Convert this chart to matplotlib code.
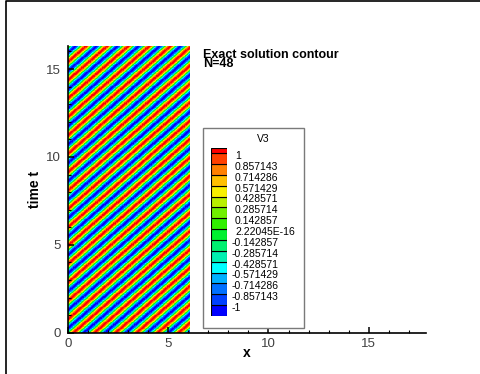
import numpy as np
import matplotlib
matplotlib.use("Agg")
import matplotlib.pyplot as plt
from matplotlib.colors import ListedColormap, BoundaryNorm
from matplotlib.patches import Rectangle
from matplotlib.lines import Line2D

plt.rcParams['font.family'] = ['Liberation Sans', 'DejaVu Sans']

# Exact travelling-wave solution V3 = A*sin(k*(x - c*t)) on the computational domain
wavenumber = 6.0
wave_speed = 1.0
amplitude = 1.05
x_max = 6.05
t_max = 16.33
n_points = 48

# Contour levels shown in the legend
levels = [-1, -0.857143, -0.714286, -0.571429, -0.428571, -0.285714, -0.142857,
          2.22045e-16, 0.142857, 0.285714, 0.428571, 0.571429, 0.714286,
          0.857143, 1]
level_labels = ['-1', '-0.857143', '-0.714286', '-0.571429', '-0.428571',
                '-0.285714', '-0.142857', '2.22045E-16', '0.142857', '0.285714',
                '0.428571', '0.571429', '0.714286', '0.857143', '1']
band_colors = ['#0000ff', '#0040ff', '#0070ff', '#00b0ff', '#00ffff', '#00f0b0',
               '#00f070', '#00f030', '#30f000', '#70f000', '#b8f000', '#f8f000',
               '#ffc000', '#ff8000', '#ff4000', '#ff0000']

x_ticks = [0, 5, 10, 15]
y_ticks = [0, 5, 10, 15]

W, H = 480, 374
fig = plt.figure(figsize=(W / 100, H / 100), dpi=100)

def fx(px):
    return px / W

def fy(py):
    return 1 - py / H

ax_l, ax_r, ax_t, ax_b = 67.7, 426.0, 45.7, 332.7
ax = fig.add_axes([fx(ax_l), fy(ax_b), (ax_r - ax_l) / W, (ax_b - ax_t) / H])

cmap = ListedColormap(band_colors)
norm = BoundaryNorm(levels, ncolors=len(band_colors), extend='both')

xs = np.linspace(0, x_max, 400)
ts = np.linspace(0, t_max, 900)
X, T = np.meshgrid(xs, ts)
V3 = amplitude * np.sin(wavenumber * (X - wave_speed * T))
ax.imshow(V3, origin='lower', extent=[0, x_max, 0, t_max], cmap=cmap,
          norm=norm, interpolation='nearest', aspect='auto', zorder=1)

ax.set_xlim(0, 17.85)
ax.set_ylim(0, t_max)
for side in ('top', 'right'):
    ax.spines[side].set_visible(False)
for side in ('left', 'bottom'):
    ax.spines[side].set_linewidth(1.2)
    ax.spines[side].set_zorder(5)

ax.set_xticks(x_ticks)
ax.set_yticks(y_ticks)
ax.set_xticks(np.arange(0, 18, 1), minor=True)
ax.set_yticks(np.arange(0, 17, 1), minor=True)
ax.tick_params(which='major', direction='in', length=4.5, width=1.1,
               labelsize=9.5, labelcolor='#404040', zorder=6)
ax.tick_params(which='minor', direction='in', length=2.3, width=0.8, zorder=6)
ax.tick_params(axis='x', pad=4)
ax.tick_params(axis='y', pad=5)

ax.set_xlabel('x', fontsize=10, fontweight='bold')
ax.xaxis.set_label_coords(0.5, -(353 - ax_b) / (ax_b - ax_t))
ax.xaxis.label.set_va('center')
ax.set_ylabel('time t', fontsize=10, fontweight='bold')
ax.yaxis.set_label_coords(-(ax_l - 35) / (ax_r - ax_l), 0.5)
ax.yaxis.label.set_va('center')

# Title block (two tightly spaced lines)
fig.text(fx(203.3), fy(49.0), f'Exact solution contour\nN={n_points}',
         fontsize=9, fontweight='bold', va='top', ha='left', linespacing=0.68)

# Legend box
box_l, box_r, box_t, box_b = 202.5, 304.0, 127.5, 327.7
fig.patches.append(Rectangle((fx(box_l), fy(box_b)), (box_r - box_l) / W,
                             (box_b - box_t) / H, transform=fig.transFigure,
                             facecolor='white', edgecolor='#7a7a7a',
                             linewidth=1.0, zorder=3))
fig.text(fx(263), fy(138.5), 'V3', fontsize=7.5, ha='center', va='center',
         zorder=4)

# Colour swatches: one band per interval, extended half a step above the top level
step = levels[-1] - levels[-2]
cb_l, cb_r, cb_t, cb_b = 211.0, 227.0, 147.7, 316.0
cax = fig.add_axes([fx(cb_l), fy(cb_b), (cb_r - cb_l) / W, (cb_b - cb_t) / H],
                   zorder=4)
bounds = [levels[0] - step] + levels + [levels[-1] + step / 2]
for i, col in enumerate(band_colors):
    cax.add_patch(Rectangle((0, bounds[i]), 1, bounds[i + 1] - bounds[i],
                            facecolor=col, edgecolor='black', linewidth=0.8))
cax.set_xlim(0, 1)
cax.set_ylim(bounds[0], bounds[-1])
cax.axis('off')
for lev, lab in zip(levels, level_labels):
    xoff = 1.27 if lab.startswith('-') else 1.5
    cax.text(xoff, lev - 0.27 * step, lab, fontsize=7.5, ha='left',
             va='center', clip_on=False)

# Outer frame
fig.add_artist(Line2D([fx(6), fx(6), fx(480)], [fy(374), fy(1), fy(1)],
                      transform=fig.transFigure, color='black', linewidth=1.2))

fig.savefig('out.png', dpi=100)
